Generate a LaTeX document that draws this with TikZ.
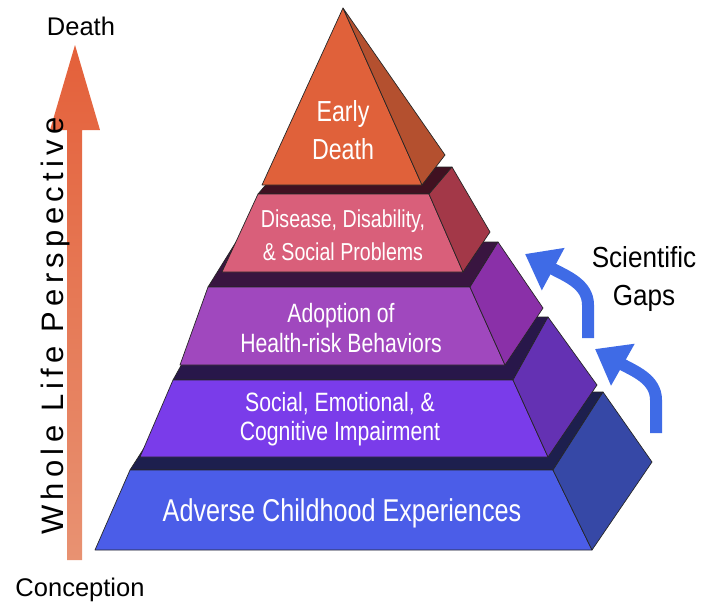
\documentclass[tikz,border=0pt]{standalone}
\usepackage{fontspec}
\setmainfont{Liberation Sans}
\newfontfamily\narrowfont{Liberation Sans}[FakeStretch=0.8]
\newfontfamily\gapsfont{Liberation Sans}[FakeStretch=0.9]
\newfontfamily\spacedfont{Liberation Sans}[LetterSpace=17]
\usetikzlibrary{arrows.meta,positioning}

\definecolor{lifetop}{HTML}{E4603A}
\definecolor{lifebot}{HTML}{E89272}
\definecolor{gapblue}{HTML}{3F6BE6}
\definecolor{deathfront}{HTML}{E0613A}
\definecolor{deathside}{HTML}{B4502F}
\definecolor{diseasetop}{HTML}{401121}
\definecolor{diseasefront}{HTML}{D95F7A}
\definecolor{diseaseside}{HTML}{A33848}
\definecolor{adopttop}{HTML}{391540}
\definecolor{adoptfront}{HTML}{A048BE}
\definecolor{adoptside}{HTML}{8A30A8}
\definecolor{socialtop}{HTML}{28174A}
\definecolor{socialfront}{HTML}{7A3CEA}
\definecolor{socialside}{HTML}{6431B3}
\definecolor{acetop}{HTML}{1D1F4E}
\definecolor{acefront}{HTML}{4B5DE8}
\definecolor{aceside}{HTML}{3648A6}

\begin{document}
\begin{tikzpicture}[
    x=1pt, y=-1pt,
    face/.style={draw=black!85, line width=0.7pt, line join=round},
    tierlabel/.style={text=white, align=center, inner sep=0pt},
    sidelabel/.style={text=black, align=center, inner sep=0pt},
    gaparrow/.style={draw=gapblue, line width=12pt, -{Triangle[width=46pt,length=32pt]}}
]
\useasboundingbox (0,0) rectangle (701,608);

% whole life arrow
\shade[top color=lifetop, bottom color=lifebot]
    (67,560) -- (82,560) -- (82,130) -- (100,130) -- (75,45) -- (50,130) -- (67,130) -- cycle;

% tier 5: adverse childhood experiences
\fill[face, fill=acetop] (130,470) -- (553,470) -- (603,392) -- (180,392) -- cycle;
\fill[face, fill=acefront] (130,470) -- (553,470) -- (592,550) -- (95,550) -- cycle;
\fill[face, fill=aceside] (553,470) -- (603,392) -- (652,462) -- (592,550) -- cycle;

% tier 4: social, emotional, cognitive
\fill[face, fill=socialtop] (173,380) -- (513,380) -- (548,317) -- (208,317) -- cycle;
\fill[face, fill=socialfront] (173,380) -- (513,380) -- (548,457) -- (140,457) -- cycle;
\fill[face, fill=socialside] (513,380) -- (548,317) -- (597,385) -- (548,457) -- cycle;

% tier 3: health-risk behaviors
\fill[face, fill=adopttop] (208,287) -- (470,287) -- (498,242) -- (236,242) -- cycle;
\fill[face, fill=adoptfront] (208,287) -- (470,287) -- (505,365) -- (180,365) -- cycle;
\fill[face, fill=adoptside] (470,287) -- (498,242) -- (543,308) -- (505,365) -- cycle;

% tier 2: disease, disability
\fill[face, fill=diseasetop] (258,194) -- (429,194) -- (452,167) -- (281,167) -- cycle;
\fill[face, fill=diseasefront] (258,194) -- (429,194) -- (463,272) -- (222,272) -- cycle;
\fill[face, fill=diseaseside] (429,194) -- (452,167) -- (490,232) -- (463,272) -- cycle;

% tier 1: early death
\fill[face, fill=deathfront] (343,8) -- (422,185) -- (262,185) -- cycle;
\fill[face, fill=deathside] (343,8) -- (445,155) -- (422,185) -- cycle;

% scientific gaps arrows
\coordinate (gapA) at (588,338);
\coordinate (gapB) at (656,433);
\draw[gaparrow] (gapA) -- (588,305) .. controls (588,284) and (566,276) .. (525,254);
\draw[gaparrow] (gapB) -- (656,400) .. controls (656,379) and (634,371) .. (595,349);

% labels
\node[tierlabel, font=\narrowfont\fontsize{29}{38}\selectfont] (death) at (343,130) {Early\\Death};
\node[tierlabel, font=\narrowfont\fontsize{24.5}{33}\selectfont] (disease) at (343,235) {Disease, Disability,\\\& Social Problems};
\node[tierlabel, font=\narrowfont\fontsize{26.5}{30}\selectfont] (adopt) at (341,328) {Adoption of\\Health-risk Behaviors};
\node[tierlabel, font=\narrowfont\fontsize{26.5}{29}\selectfont] (social) at (340,419) {Social, Emotional, \&\\Cognitive Impairment};
\node[tierlabel, font=\narrowfont\fontsize{31.5}{36}\selectfont] (ace) at (342,513) {Adverse Childhood Experiences};

\node[sidelabel, font=\fontsize{25.5}{30}\selectfont] (top) at (81,26) {Death};
\node[sidelabel, font=\fontsize{25.5}{30}\selectfont] (bottom) at (80,590) {Conception};
\node[sidelabel, rotate=90, font=\spacedfont\fontsize{31}{36}\selectfont] (life) at (55,326) {Whole Life Perspective};
\node[sidelabel, font=\gapsfont\fontsize{29}{38}\selectfont] (gaps) at (644,279) {Scientific\\Gaps};
\end{tikzpicture}
\end{document}
